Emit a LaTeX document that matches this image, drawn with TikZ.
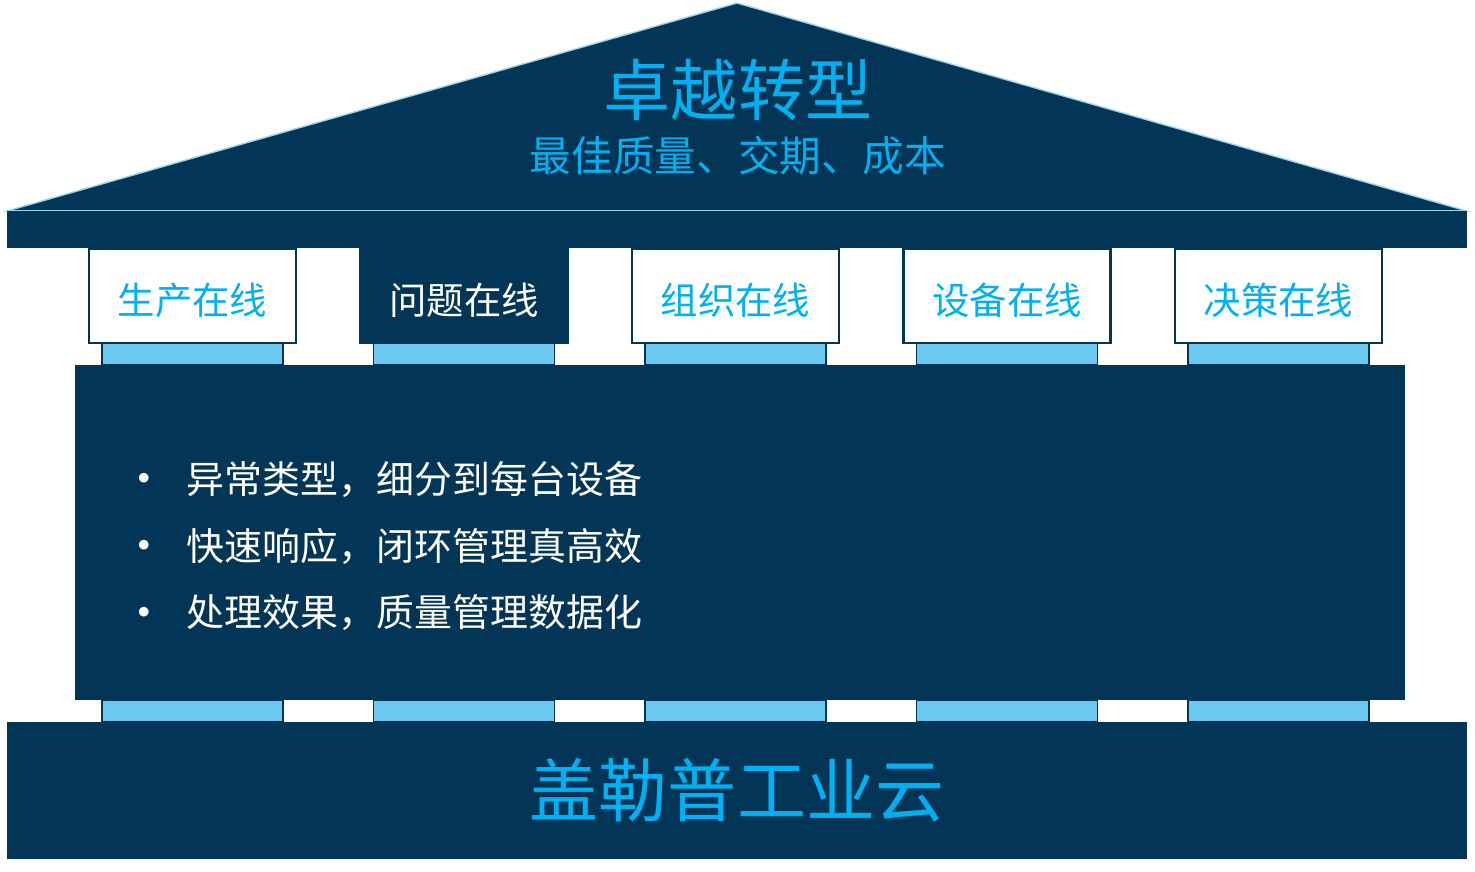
\documentclass[tikz,border=0pt]{standalone}
\usepackage{fontspec}
\setmainfont{Noto Sans CJK SC}
\usepackage{tikz}
\usetikzlibrary{positioning}
\definecolor{hnavy}{RGB}{3,54,86}
\definecolor{hcyan}{RGB}{0,176,240}
\definecolor{hsky}{RGB}{108,200,238}
\definecolor{hedge}{RGB}{150,215,245}
\newcommand{\hdot}{\raisebox{-0.06em}{\scalebox{1.2}{•}}}
\tikzset{
  slab/.style={fill=hnavy, draw=none, inner sep=0pt},
  topbox/.style={draw=hnavy, line width=1.2pt, fill=white, text=hcyan, inner sep=0pt,
                 minimum width=4.14cm, minimum height=1.88cm, font=\fontsize{21.3}{21.3}\selectfont},
  hotbox/.style={topbox, fill=hnavy, text=white},
  pillar/.style={draw=hnavy, line width=0.8pt, fill=hsky, inner sep=0pt,
                 minimum width=3.62cm, minimum height=0.44cm},
  bigtxt/.style={text=hcyan, inner sep=0pt}
}
\begin{document}
\begin{tikzpicture}[x=0.02cm, y=-0.02cm]
    \useasboundingbox (0,0) rectangle (1475,872);
    % roof
    \coordinate (eaveL) at (7,211);
    \coordinate (apex) at (737,3);
    \coordinate (eaveR) at (1467,211);
    \fill[hnavy] (eaveL) -- (apex) -- (eaveR) -- cycle;
    \draw[hedge, line width=0.8pt] (eaveL) -- (apex) -- (eaveR) -- cycle;
    \node[slab, minimum width=29.2cm, minimum height=0.74cm] (beam) at (737,229.5) {};
    \draw[hedge, line width=0.8pt] (beam.north west) -- (beam.north east);
    \node[bigtxt, font=\fontsize{38.2}{38.2}\selectfont] (title) at (738,90) {卓越转型};
    \node[bigtxt, font=\fontsize{23.7}{23.7}\selectfont, below=0.3cm of title] (goal) {最佳质量、交期、成本};
    % pillars
    \foreach \i in {0,...,4} {
      \node[pillar] (pu\i) at (192.5+271.5*\i,354) {};
      \node[pillar] (pd\i) at (192.5+271.5*\i,711) {};
    }
    % boxes
    \foreach \i/\lbl/\sty in {0/生产在线/topbox, 1/问题在线/hotbox, 2/组织在线/topbox,
                              3/设备在线/topbox, 4/决策在线/topbox}
      \node[\sty] (box\i) at (192.5+271.5*\i,296) {\raisebox{-0.38cm}[0pt][0pt]{\lbl}};
    % body and base
    \node[slab, minimum width=26.6cm, minimum height=6.7cm] (body) at (740,532.5) {};
    \node[slab, minimum width=29.2cm, minimum height=2.74cm] (base) at (737,790.5) {};
    \node[text=white, align=left, anchor=west, inner sep=0pt,
          font=\fontsize{21.6}{38}\selectfont] (points) at (121,546)
      {\hdot\hspace{0.4cm}异常类型，细分到每台设备\\
       \hdot\hspace{0.4cm}快速响应，闭环管理真高效\\
       \hdot\hspace{0.4cm}处理效果，质量管理数据化};
    \node[bigtxt, font=\fontsize{39.3}{39.3}\selectfont] (brand) at (base) {盖勒普工业云};
\end{tikzpicture}
\end{document}
